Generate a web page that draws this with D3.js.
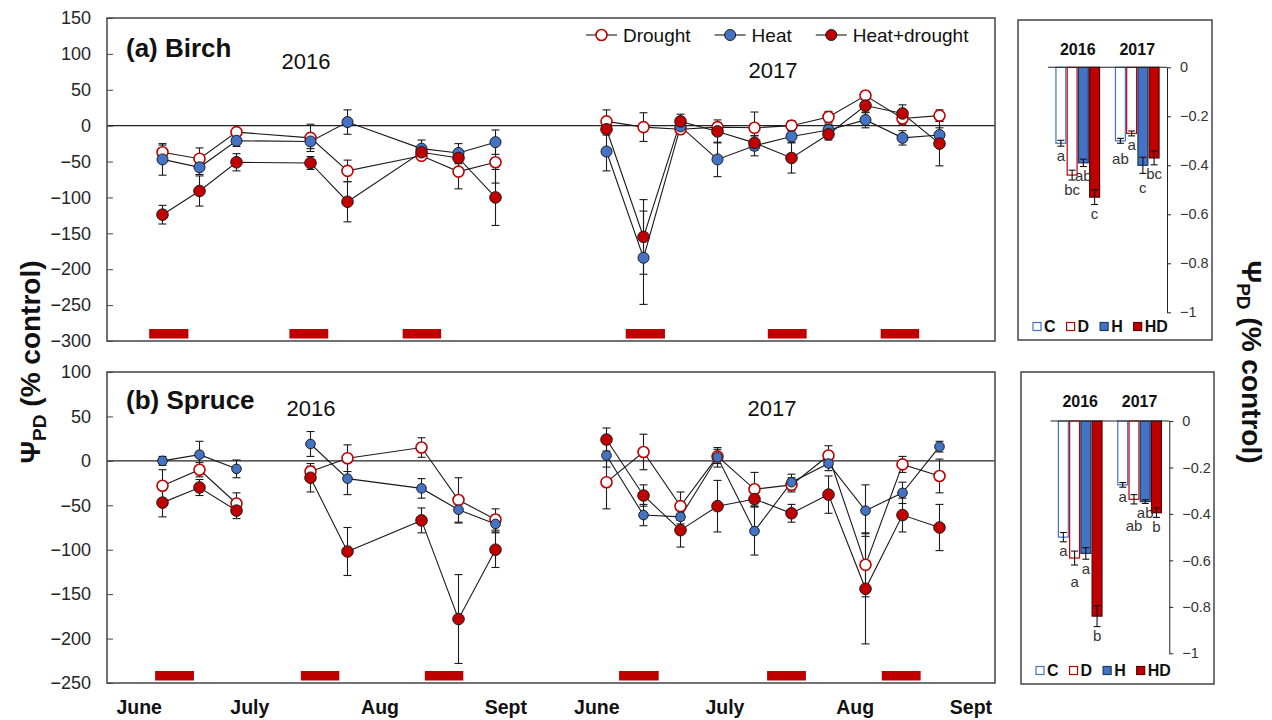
<!DOCTYPE html>
<html>
<head>
<meta charset="utf-8">
<title>Predawn water potential, birch and spruce</title>
<script src="https://cdn.jsdelivr.net/npm/d3@7"></script>
<style>
    body { margin: 0; background: #fff; }
    text { font-family: Arial, "Liberation Sans", sans-serif; }
</style>
</head>
<body>
<svg width="1272" height="720"></svg>

<script>
    // ---------- data ----------
    // month labels, placed on the slot axis
    var months = ["June", "July", "Aug", "Sept", "June", "July", "Aug", "Sept"];
    var monthAt = [0.37, 3.36, 6.88, 10.28, 12.74, 16.2, 19.72, 22.85];

    // measurement dates as slot numbers (2016 then 2017)
    var birchSlots = [1, 2, 3, 5, 6, 8, 9, 10, 13, 14, 15, 16, 17, 18, 19, 20, 21, 22];
    var birchBreaks = [13];
    var spruceSlots = [1, 2, 3, 5, 6, 8, 9, 10, 13, 14, 15, 16, 17, 18, 19, 20, 21, 22];
    var spruceBreaks = [5, 13];

    var birchDrought   = [-37, -46, -9, -17, -63, -42, -64, -51, 6, -2, -5, -2, -3, 0, 12, 42, 10, 14];
    var birchDroughtSE = [10, 15, 4, 19, 15, 5, 24, 29, 16, 20, 5, 6, 22, 7, 8, 5, 8, 8];
    var birchHeat      = [-47, -58, -21, -22, 5, -32, -38, -23, -36, -184, -1, -47, -28, -15, -6, 8, -17, -13];
    var birchHeatSE    = [22, 10, 8, 10, 17, 12, 13, 17, 27, 65, 5, 24, 14, 8, 8, 11, 10, 10];
    var birchHD        = [-124, -91, -51, -52, -106, -37, -45, -100, -5, -155, 6, -8, -24, -45, -12, 28, 17, -25];
    var birchHDSE      = [13, 21, 12, 9, 28, 6, 8, 39, 8, 52, 10, 16, 10, 21, 8, 10, 12, 31];

    var spruceDrought   = [-28, -10, -48, -12, 3, 15, -44, -66, -24, 10, -51, 5, -32, -27, 6, -117, -4, -17];
    var spruceDroughtSE = [18, 8, 12, 6, 15, 11, 25, 12, 30, 20, 16, 8, 19, 8, 11, 36, 9, 19];
    var spruceHeat      = [0, 7, -9, 19, -20, -31, -55, -71, 6, -61, -63, 4, -79, -24, -3, -56, -36, 16];
    var spruceHeatSE    = [5, 15, 10, 14, 18, 11, 15, 10, 13, 12, 8, 11, 27, 9, 8, 29, 12, 6];
    var spruceHD        = [-47, -30, -56, -19, -102, -67, -178, -100, 24, -39, -78, -51, -43, -59, -38, -144, -61, -75];
    var spruceHDSE      = [16, 9, 9, 16, 27, 14, 50, 20, 13, 12, 19, 29, 8, 10, 21, 62, 19, 26];

    // treatment periods (start, end on the slot axis)
    var birchPeriods  = [[0.64, 1.70], [4.43, 5.48], [7.49, 8.53], [13.52, 14.58], [17.36, 18.41], [20.41, 21.45]];
    var sprucePeriods = [[0.80, 1.85], [4.74, 5.78], [8.09, 9.13], [13.34, 14.41], [17.34, 18.39], [20.44, 21.49]];

    // seasonal means (right-hand panels)
    var barYears = ["2016", "2017"];
    var barKeys = ["C", "D", "H", "HD"];
    var birchBar2016 = [-0.31, -0.44, -0.39, -0.53];
    var birchBarSE2016 = [0.012, 0.02, 0.015, 0.03];
    var birchLetters2016 = ["a", "bc", "ab", "c"];
    var birchBar2017 = [-0.30, -0.27, -0.40, -0.37];
    var birchBarSE2017 = [0.01, 0.01, 0.033, 0.028];
    var birchLetters2017 = ["ab", "a", "c", "bc"];
    var spruceBar2016 = [-0.50, -0.59, -0.57, -0.84];
    var spruceBarSE2016 = [0.02, 0.03, 0.025, 0.045];
    var spruceLetters2016 = ["a", "a", "a", "b"];
    var spruceBar2017 = [-0.275, -0.337, -0.347, -0.395];
    var spruceBarSE2017 = [0.01, 0.02, 0.008, 0.02];
    var spruceLetters2017 = ["a", "ab", "ab", "b"];
    var barTicks = [0, -0.2, -0.4, -0.6, -0.8, -1];

    // ---------- drawing ----------
    var svg = d3.select("svg");
    var BLUE = "#4472c4", RED = "#c00000";

    var x = d3.scaleLinear().domain([-0.5, 23.5]).range([107, 995]);

    function linePanel(p) {
        var y = d3.scaleLinear().domain(p.domain).range([p.bottom, p.top]);
        var g = svg.append("g");

        g.selectAll("rect.period")
            .data(p.periods)
            .enter().append("rect")
            .attr("x", function (d) { return x(d[0]); })
            .attr("width", function (d) { return x(d[1]) - x(d[0]); })
            .attr("y", p.bottom - 12)
            .attr("height", 9.5)
            .attr("fill", RED);

        g.append("line")
            .attr("x1", x.range()[0]).attr("x2", x.range()[1])
            .attr("y1", y(0)).attr("y2", y(0))
            .attr("stroke", "#222").attr("stroke-width", 1.2);

        var ax = g.append("g")
            .attr("transform", "translate(" + x.range()[0] + ",0)")
            .call(d3.axisLeft(y)
                .tickValues(d3.range(p.domain[0], p.domain[1] + 1, 50))
                .tickSizeInner(-6).tickSizeOuter(0).tickPadding(16));
        ax.select(".domain").remove();
        ax.selectAll("line").attr("stroke", "#444");
        ax.selectAll("text").attr("font-size", 18).attr("fill", "#262626")
            .attr("font-family", "Arial, 'Liberation Sans', sans-serif");

        g.append("rect")
            .attr("x", x.range()[0]).attr("y", p.top)
            .attr("width", x.range()[1] - x.range()[0]).attr("height", p.bottom - p.top)
            .attr("fill", "none").attr("stroke", "#444").attr("stroke-width", 1.5);

        var series = [
            { vals: p.drought, se: p.droughtSE, fill: "#fff", stroke: RED, sw: 1.6, r: 5.5 },
            { vals: p.heat, se: p.heatSE, fill: BLUE, stroke: "#1a1a1a", sw: 1, r: p.heatR },
            { vals: p.hd, se: p.hdSE, fill: RED, stroke: "#1a1a1a", sw: 1, r: 5.8 }
        ];

        var line = d3.line()
            .x(function (d) { return x(d.s); })
            .y(function (d) { return y(d.v); });

        series.forEach(function (s) {
            s.pts = p.slots.map(function (slot, i) { return { s: slot, v: s.vals[i], e: s.se[i] }; });
            var segs = [], cur = [];
            s.pts.forEach(function (d) {
                if (p.breaks.indexOf(d.s) >= 0 && cur.length) { segs.push(cur); cur = []; }
                cur.push(d);
            });
            segs.push(cur);
            g.selectAll(null).data(segs).enter().append("path")
                .attr("d", line)
                .attr("fill", "none").attr("stroke", "#1a1a1a").attr("stroke-width", 1.1);
        });

        series.forEach(function (s) {
            var eb = g.selectAll(null).data(s.pts).enter().append("g")
                .attr("stroke", "#1a1a1a").attr("stroke-width", 1.1);
            eb.append("line")
                .attr("x1", function (d) { return x(d.s); }).attr("x2", function (d) { return x(d.s); })
                .attr("y1", function (d) { return y(d.v + d.e); }).attr("y2", function (d) { return y(d.v - d.e); });
            [1, -1].forEach(function (sign) {
                eb.append("line")
                    .attr("x1", function (d) { return x(d.s) - 4; }).attr("x2", function (d) { return x(d.s) + 4; })
                    .attr("y1", function (d) { return y(d.v + sign * d.e); })
                    .attr("y2", function (d) { return y(d.v + sign * d.e); });
            });
        });

        series.forEach(function (s) {
            g.selectAll(null).data(s.pts).enter().append("circle")
                .attr("cx", function (d) { return x(d.s); })
                .attr("cy", function (d) { return y(d.v); })
                .attr("r", s.r)
                .attr("fill", s.fill).attr("stroke", s.stroke).attr("stroke-width", s.sw);
        });

        g.append("text")
            .attr("x", x.range()[0] + 19).attr("y", p.titleY)
            .attr("font-size", 26).attr("font-weight", "bold").attr("fill", "#111")
            .text(p.title);

        g.selectAll("text.year")
            .data(p.years)
            .enter().append("text")
            .attr("x", function (d) { return d.x; })
            .attr("y", function (d) { return d.y; })
            .attr("text-anchor", "middle")
            .attr("font-size", 22).attr("fill", "#111")
            .text(function (d) { return d.label; });

        return series;
    }

    var birchSeries = linePanel({
        top: 18, bottom: 341, domain: [-300, 150],
        slots: birchSlots, breaks: birchBreaks, periods: birchPeriods,
        drought: birchDrought, droughtSE: birchDroughtSE,
        heat: birchHeat, heatSE: birchHeatSE, heatR: 5.5,
        hd: birchHD, hdSE: birchHDSE,
        title: "(a) Birch", titleY: 57,
        years: [{ label: "2016", x: 306, y: 69 }, { label: "2017", x: 773, y: 78 }]
    });

    linePanel({
        top: 372, bottom: 683, domain: [-250, 100],
        slots: spruceSlots, breaks: spruceBreaks, periods: sprucePeriods,
        drought: spruceDrought, droughtSE: spruceDroughtSE,
        heat: spruceHeat, heatSE: spruceHeatSE, heatR: 4.8,
        hd: spruceHD, hdSE: spruceHDSE,
        title: "(b) Spruce", titleY: 409,
        years: [{ label: "2016", x: 311, y: 416 }, { label: "2017", x: 772, y: 416 }]
    });

    // month labels under the lower panel
    svg.selectAll("text.month")
        .data(months)
        .enter().append("text")
        .attr("x", function (d, i) { return x(monthAt[i]); })
        .attr("y", 714)
        .attr("text-anchor", "middle")
        .attr("font-size", 19.5).attr("font-weight", "bold").attr("fill", "#111")
        .text(function (d) { return d; });

    // legend of the line panels
    var legendNames = ["Drought", "Heat", "Heat+drought"];
    var lx = 586, ly = 35;
    legendNames.forEach(function (name, i) {
        var s = birchSeries[i];
        var lg = svg.append("g");
        lg.append("line").attr("x1", lx).attr("x2", lx + 31).attr("y1", ly).attr("y2", ly)
            .attr("stroke", "#1a1a1a").attr("stroke-width", 1.1);
        lg.append("circle").attr("cx", lx + 15.5).attr("cy", ly).attr("r", 5.5)
            .attr("fill", s.fill).attr("stroke", s.stroke).attr("stroke-width", s.sw);
        var t = lg.append("text").attr("x", lx + 37).attr("y", ly).attr("dy", "0.35em")
            .attr("font-size", 19).attr("fill", "#111").text(name);
        lx += 37 + t.node().getComputedTextLength() + 24;
    });

    // ---------- right-hand bar panels ----------
    var barStyle = [
        { fill: "#fff", stroke: BLUE },
        { fill: "#fff", stroke: RED },
        { fill: BLUE, stroke: "#1f3864" },
        { fill: RED, stroke: "#5a0000" }
    ];

    function barPanel(p) {
        var g = svg.append("g");
        g.append("rect")
            .attr("x", p.box[0]).attr("y", p.box[1])
            .attr("width", p.box[2] - p.box[0]).attr("height", p.box[3] - p.box[1])
            .attr("fill", "none").attr("stroke", "#444").attr("stroke-width", 1.5);

        var y = d3.scaleLinear().domain([-1, 0]).range([p.yBottom, p.yZero]);
        var gx = d3.scaleBand().domain(barYears).range([p.x0, p.axisX]);
        var ix = d3.scaleBand().domain(barKeys).range([-21.8, 21.8]).paddingInner(0.12);

        var rows = [];
        barYears.forEach(function (yr, j) {
            var prev = null;
            barKeys.forEach(function (k, i) {
                var d = { yr: yr, k: k, i: i, v: p.vals[j][i], e: p.se[j][i], l: p.letters[j][i] };
                // letter sits just under the error bar; push it down if it would sit on its neighbour's
                d.ly = y(d.v - d.e) + 14.5;
                if (prev && Math.abs(d.ly - prev.ly) < 13.5) {
                    if (d.ly >= prev.ly) d.ly = prev.ly + 13.5;
                    else prev.ly = d.ly + 13.5;
                }
                rows.push(d);
                prev = d;
            });
        });
        function cx(d) { return gx(d.yr) + gx.bandwidth() / 2 + ix(d.k) + ix.bandwidth() / 2; }

        g.selectAll(null).data(rows).enter().append("rect")
            .attr("x", function (d) { return cx(d) - ix.bandwidth() / 2; })
            .attr("width", ix.bandwidth())
            .attr("y", y(0))
            .attr("height", function (d) { return y(d.v) - y(0); })
            .attr("fill", function (d) { return barStyle[d.i].fill; })
            .attr("stroke", function (d) { return barStyle[d.i].stroke; })
            .attr("stroke-width", 1.2);

        var eb = g.selectAll(null).data(rows).enter().append("g")
            .attr("stroke", "#111").attr("stroke-width", 1.1);
        eb.append("line")
            .attr("x1", cx).attr("x2", cx)
            .attr("y1", function (d) { return y(d.v + d.e); })
            .attr("y2", function (d) { return y(d.v - d.e); });
        [1, -1].forEach(function (sign) {
            eb.append("line")
                .attr("x1", function (d) { return cx(d) - 3.5; })
                .attr("x2", function (d) { return cx(d) + 3.5; })
                .attr("y1", function (d) { return y(d.v + sign * d.e); })
                .attr("y2", function (d) { return y(d.v + sign * d.e); });
        });

        g.selectAll(null).data(rows).enter().append("text")
            .attr("x", cx)
            .attr("y", function (d) { return d.ly; })
            .attr("text-anchor", "middle")
            .attr("font-size", 15).attr("fill", "#333")
            .text(function (d) { return d.l; });

        g.append("line")
            .attr("x1", p.x0).attr("x2", p.axisX)
            .attr("y1", y(0)).attr("y2", y(0))
            .attr("stroke", "#222").attr("stroke-width", 1.1);

        var ax = g.append("g")
            .attr("transform", "translate(" + p.axisX + ",0)")
            .call(d3.axisRight(y).tickValues(barTicks)
                .tickFormat(function (d) { return d === 0 ? "0" : d3.format("")(d); })
                .tickSizeInner(4).tickSizeOuter(0).tickPadding(9));
        ax.select(".domain").attr("stroke", "#222");
        ax.selectAll("line").attr("stroke", "#222");
        ax.selectAll("text").attr("font-size", 14.5).attr("fill", "#333")
            .attr("font-family", "Arial, 'Liberation Sans', sans-serif");

        g.selectAll(null).data(barYears).enter().append("text")
            .attr("x", function (d) { return gx(d) + gx.bandwidth() / 2; })
            .attr("y", p.box[1] + 29).attr("dy", "0.35em")
            .attr("text-anchor", "middle")
            .attr("font-size", 16).attr("font-weight", "bold").attr("fill", "#111")
            .text(function (d) { return d; });

        var lx = p.box[0] + 15;
        var ly = p.box[3] - 13.5;
        barKeys.forEach(function (k, i) {
            g.append("rect")
                .attr("x", lx).attr("y", ly - 4).attr("width", 8).attr("height", 8)
                .attr("fill", barStyle[i].fill).attr("stroke", barStyle[i].stroke).attr("stroke-width", 1.2);
            var t = g.append("text")
                .attr("x", lx + 11).attr("y", ly).attr("dy", "0.36em")
                .attr("font-size", 16).attr("font-weight", "bold").attr("fill", "#111")
                .text(k);
            lx += 11 + t.node().getComputedTextLength() + 11;
        });
    }

    barPanel({
        box: [1018, 20, 1212, 340], yZero: 67.3, yBottom: 312.3, x0: 1048, axisX: 1167,
        vals: [birchBar2016, birchBar2017], se: [birchBarSE2016, birchBarSE2017],
        letters: [birchLetters2016, birchLetters2017]
    });
    barPanel({
        box: [1021, 372, 1214, 684], yZero: 421, yBottom: 653.3, x0: 1050.5, axisX: 1169.3,
        vals: [spruceBar2016, spruceBar2017], se: [spruceBarSE2016, spruceBarSE2017],
        letters: [spruceLetters2016, spruceLetters2017]
    });

    // y axis titles, left and right
    function yTitle(xPos, angle) {
        var t = svg.append("text")
            .attr("transform", "translate(" + xPos + ",362) rotate(" + angle + ")")
            .attr("text-anchor", "middle").attr("dy", "0.35em")
            .attr("font-size", 28).attr("font-weight", "bold").attr("fill", "#111");
        t.append("tspan").text("\u03A8");
        t.append("tspan").attr("font-size", 19).attr("dy", "0.3em").text("PD");
        t.append("tspan").attr("dy", "-0.2em").text(" (% control)");
    }
    yTitle(30, -90);
    yTitle(1252, 90);
</script>
</body>
</html>
